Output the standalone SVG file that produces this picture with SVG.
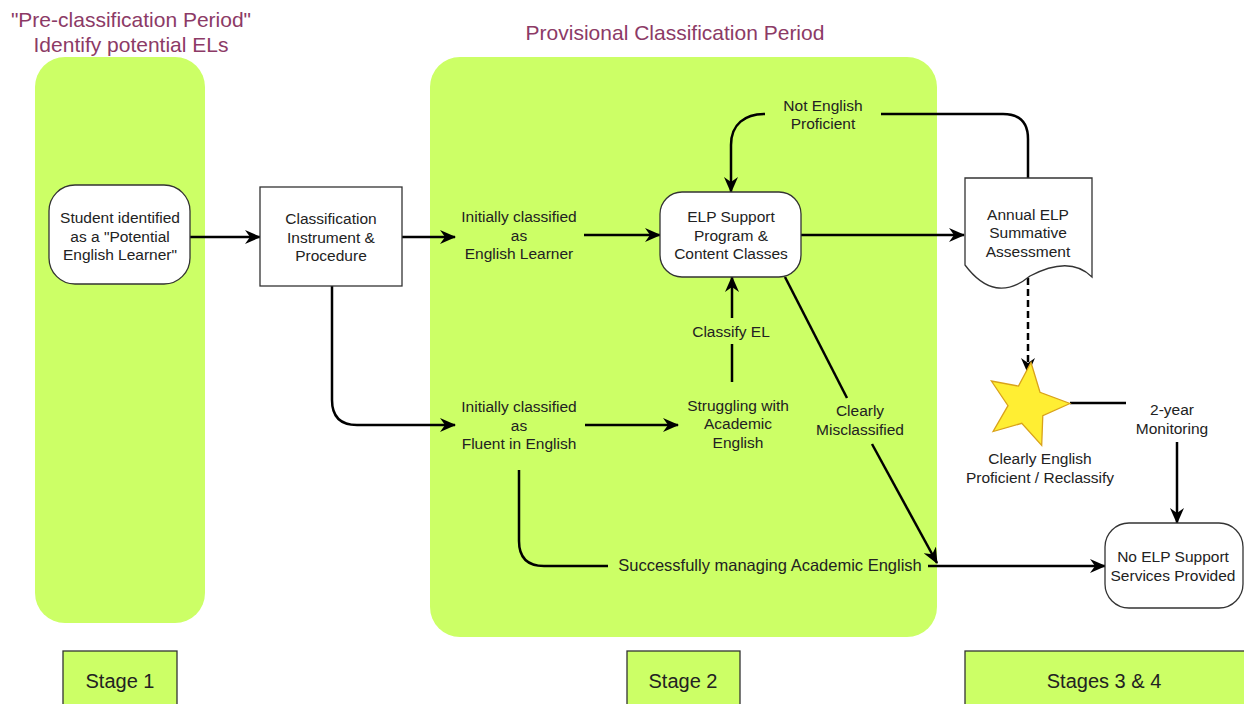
<svg xmlns="http://www.w3.org/2000/svg" width="1244" height="704" viewBox="0 0 1244 704">
<defs>
<marker id="arr" viewBox="0 0 16 14" refX="15" refY="7" markerWidth="16" markerHeight="14" markerUnits="userSpaceOnUse" orient="auto">
<path d="M0,0 L16,7 L0,14 L5,7 Z" fill="#000"/>
</marker>
<style>
.panel{fill:#CCFF66;stroke:none}
.node{fill:#fff;stroke:#333;stroke-width:1.3}
.stage{fill:#CCFF66;stroke:#333;stroke-width:1.3}
.t{font-family:"Liberation Sans",Arial,sans-serif;font-size:15.5px;fill:#222;text-anchor:middle}
.title{font-family:"Liberation Sans",Arial,sans-serif;font-size:21px;fill:#8C3A66;text-anchor:middle}
.st{font-family:"Liberation Sans",Arial,sans-serif;font-size:20px;fill:#222;text-anchor:middle}
.c{fill:none;stroke:#000;stroke-width:2.5}
.a{marker-end:url(#arr)}
</style>
</defs>
<rect width="1244" height="704" fill="#fff"/>

<g id="panel-stage1"><rect class="panel" x="35" y="57" width="170" height="566" rx="30"/></g>
<g id="panel-stage2"><rect class="panel" x="430" y="57" width="507" height="580" rx="30"/></g>

<g id="titles">
<text class="title" x="131" y="27">"Pre-classification Period"</text>
<text class="title" x="131" y="52">Identify potential ELs</text>
<text class="title" x="675" y="40">Provisional Classification Period</text>
</g>

<g id="connectors">
<path class="c a" d="M190,237 H260"/>
<path class="c a" d="M402,237 H455"/>
<path class="c a" d="M332,286 V400 Q332,425 357,425 H455"/>
<path class="c a" d="M584,235 H660"/>
<path class="c a" d="M801,235 H964"/>
<path class="c" d="M1028,178 V139 Q1028,114 1003,114 H881"/>
<path class="c a" d="M765,114 C745,114 731,124 731,145 V192"/>
<path class="c a" d="M585,425 H678"/>
<path class="c" d="M732,382 V344"/>
<path class="c a" d="M732,318 V277"/>
<path class="c" d="M785,277 L847,398"/>
<path class="c a" d="M872,444 L937,563"/>
<path class="c" d="M519,470 V541 Q519,566 544,566 H608"/>
<path class="c a" d="M928,566 H1105"/>
<path class="c a" d="M1028,278 V373" stroke-dasharray="7,4" stroke-width="3"/>
<path class="c" d="M1070,403 H1126"/>
<path class="c a" d="M1177,442 V523"/>
</g>

<g id="student">
<rect class="node" x="49" y="185" width="141" height="99" rx="26"/>
<text class="t" x="120" y="223">Student identified</text>
<text class="t" x="120" y="242">as a "Potential</text>
<text class="t" x="120" y="260">English Learner"</text>
</g>

<g id="classification">
<rect class="node" x="260" y="187" width="142" height="99"/>
<text class="t" x="331" y="224">Classification</text>
<text class="t" x="331" y="243">Instrument &amp;</text>
<text class="t" x="331" y="261">Procedure</text>
</g>

<g id="init-el">
<text class="t" x="519" y="222">Initially classified</text>
<text class="t" x="519" y="241">as</text>
<text class="t" x="519" y="259">English Learner</text>
</g>

<g id="elp">
<rect class="node" x="660" y="192" width="141" height="85" rx="22"/>
<text class="t" x="731" y="222">ELP Support</text>
<text class="t" x="731" y="241">Program &amp;</text>
<text class="t" x="731" y="259">Content Classes</text>
</g>

<g id="not-proficient">
<text class="t" x="823" y="111">Not English</text>
<text class="t" x="823" y="129">Proficient</text>
</g>

<g id="annual">
<path class="node" d="M965,178 H1092 V277 Q1070,255 1030,276 Q995,305 965,265 Z"/>
<text class="t" x="1028" y="220">Annual ELP</text>
<text class="t" x="1028" y="238">Summative</text>
<text class="t" x="1028" y="257">Assessment</text>
</g>

<g id="classify-el"><text class="t" x="731" y="337">Classify EL</text></g>

<g id="init-fluent">
<text class="t" x="519" y="412">Initially classified</text>
<text class="t" x="519" y="431">as</text>
<text class="t" x="519" y="449">Fluent in English</text>
</g>

<g id="struggling">
<text class="t" x="738" y="411">Struggling with</text>
<text class="t" x="738" y="429">Academic</text>
<text class="t" x="738" y="448">English</text>
</g>

<g id="misclassified">
<text class="t" x="860" y="416">Clearly</text>
<text class="t" x="860" y="435">Misclassified</text>
</g>

<g id="successfully"><text class="t" x="770" y="571" style="font-size:16.5px">Successfully managing Academic English</text></g>

<g id="star">
<polygon points="1070,403.5 1042.8,415.6 1041.7,445.4 1021.8,423.3 993.1,431.5 1008,405.7 991.4,381 1018.5,386.1 1031,362.5 1040,392.3" fill="#FFEE33" stroke="#D9A21B" stroke-width="1.3"/>
<text class="t" x="1040" y="464">Clearly English</text>
<text class="t" x="1040" y="483">Proficient / Reclassify</text>
</g>

<g id="monitoring">
<text class="t" x="1172" y="415">2-year</text>
<text class="t" x="1172" y="434">Monitoring</text>
</g>

<g id="no-elp">
<rect class="node" x="1105" y="523" width="138" height="85" rx="24"/>
<text class="t" x="1173" y="562">No ELP Support</text>
<text class="t" x="1173" y="581">Services Provided</text>
</g>

<g id="stage1"><rect class="stage" x="63" y="651" width="114" height="60"/><text class="st" x="120" y="688">Stage 1</text></g>
<g id="stage2"><rect class="stage" x="627" y="651" width="113" height="60"/><text class="st" x="683" y="688">Stage 2</text></g>
<g id="stage34"><rect class="stage" x="965" y="651" width="285" height="60"/><text class="st" x="1104" y="688">Stages 3 &amp; 4</text></g>
</svg>
